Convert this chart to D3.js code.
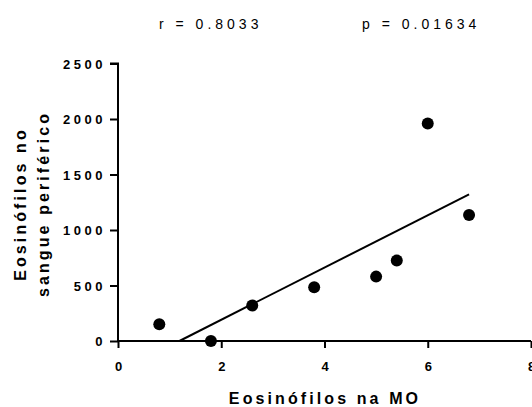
<!DOCTYPE html>
<html><head><meta charset="utf-8">
<script src="https://cdn.jsdelivr.net/npm/d3@7"></script>
<style>body{margin:0;background:#fff}svg{display:block}</style>
</head><body>
<script>
const xValues = [0.8, 1.8, 2.6, 3.8, 5.0, 5.4, 6.0, 6.8];
const yValues = [150, 0, 320, 485, 580, 725, 1960, 1135];
const fitX = [1.19, 6.8];
const fitY = [0, 1321];
const xTicks = [0, 2, 4, 6, 8];
const yTicks = [0, 500, 1000, 1500, 2000, 2500];
const statLabels = ["r = 0.8033", "p = 0.01634"];
const xTitle = "Eosinófilos na MO";
const yTitle = ["Eosinófilos no", "sangue periférico"];

const W = 532, H = 407;
const svg = d3.select("body").append("svg").attr("width", W).attr("height", H);
const x = d3.scaleLinear().domain([0, 8]).range([118, 531]);
const y = d3.scaleLinear().domain([0, 2500]).range([341, 63.5]);
const font = "Liberation Sans, Arial, sans-serif";

// y axis
const ya = svg.append("g").attr("transform", `translate(${x(0)},0)`)
  .call(d3.axisLeft(y).tickValues(yTicks).tickSize(8).tickPadding(4).tickFormat(d3.format("d")));
ya.select(".domain").attr("stroke-width", 2).attr("d", `M-8,${y(2500)}H0V${y(0)}`);
ya.selectAll(".tick line").attr("stroke-width", 2);
ya.selectAll(".tick text").attr("font-family", font).attr("font-weight", "bold")
  .attr("font-size", 13).attr("letter-spacing", "3.5px").attr("dy", "0.35em").attr("fill", "#000");

// x axis
const xa = svg.append("g").attr("transform", `translate(0,${y(0)})`)
  .call(d3.axisBottom(x).tickValues(xTicks).tickSize(7).tickPadding(14).tickFormat(d3.format("d")));
xa.select(".domain").attr("stroke-width", 2).attr("d", `M${x(0)},0H${x(8)}`);
xa.selectAll(".tick line").attr("stroke-width", 2);
xa.selectAll(".tick text").attr("font-family", font).attr("font-weight", "bold")
  .attr("font-size", 13).attr("fill", "#000");

// fit line
svg.append("path").datum(fitX.map((v, i) => [v, fitY[i]]))
  .attr("d", d3.line().x(d => x(d[0])).y(d => y(d[1])))
  .attr("stroke", "#000").attr("stroke-width", 2).attr("fill", "none");

// points
svg.append("g").selectAll("circle").data(xValues.map((v, i) => [v, yValues[i]]))
  .join("circle").attr("cx", d => x(d[0])).attr("cy", d => y(d[1])).attr("r", 6).attr("fill", "#000");

// stats
svg.append("text").attr("x", 159).attr("y", 29).attr("font-family", font).attr("font-size", 14)
  .attr("letter-spacing", "4px").text(statLabels[0]);
svg.append("text").attr("x", 362).attr("y", 29).attr("font-family", font).attr("font-size", 14)
  .attr("letter-spacing", "4px").text(statLabels[1]);

// x title
svg.append("text").attr("x", 325).attr("y", 404).attr("text-anchor", "middle")
  .attr("font-family", font).attr("font-weight", "bold").attr("font-size", 16)
  .attr("letter-spacing", "3.1px").text(xTitle);

// y title
const yt = svg.append("text").attr("transform", `translate(0,204) rotate(-90)`)
  .attr("text-anchor", "middle").attr("font-family", font).attr("font-weight", "bold")
  .attr("font-size", 16).attr("letter-spacing", "3.1px");
yt.append("tspan").attr("x", 0).attr("y", 26).text(yTitle[0]);
yt.append("tspan").attr("x", 0).attr("y", 49).text(yTitle[1]);
</script>
</body></html>
